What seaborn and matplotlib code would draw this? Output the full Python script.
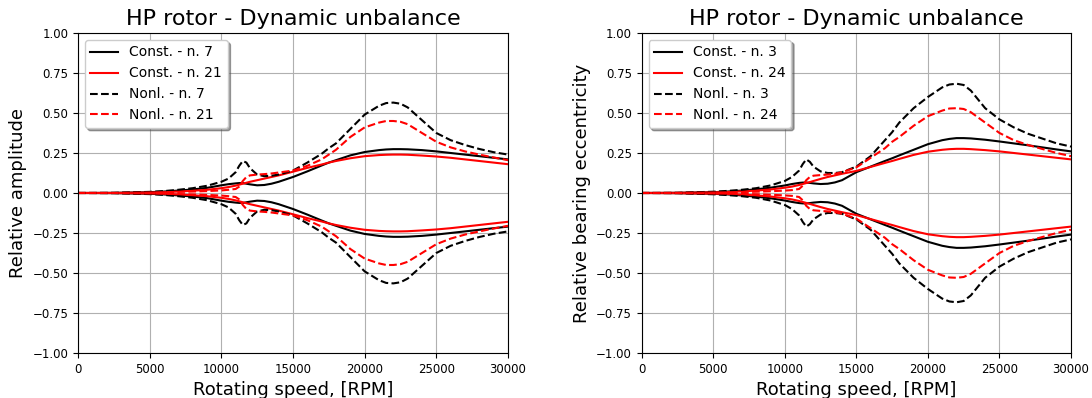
# Libraries
import numpy as np
import pandas as pd
import seaborn as sns
import matplotlib
matplotlib.use("Agg")
import matplotlib.pyplot as plt

# -----------------------------------
# Data
# -----------------------------------
rpm = [0, 2500, 5000, 6000, 7000, 8000, 9000, 10000, 10500, 11000, 11250,
       11500, 11750, 12000, 12500, 13000, 13500, 14000, 15000, 16000, 17000,
       17500, 18000, 19000, 20000, 21000, 21500, 22000, 22500, 23000, 24000,
       25000, 26000, 27000, 28000, 29000, 30000]

# Left panel - relative amplitude
const_n7 = [0, 0.001, 0.005, 0.009, 0.015, 0.022, 0.032, 0.048, 0.055, 0.06,
            0.062, 0.062, 0.058, 0.054, 0.048, 0.05, 0.058, 0.07, 0.10, 0.135,
            0.172, 0.19, 0.205, 0.235, 0.256, 0.268, 0.272, 0.274, 0.274,
            0.273, 0.268, 0.26, 0.25, 0.24, 0.23, 0.22, 0.21]
const_n21 = [0, 0.0, 0.003, 0.005, 0.009, 0.014, 0.02, 0.03, 0.037, 0.046,
             0.052, 0.058, 0.064, 0.07, 0.08, 0.09, 0.1, 0.11, 0.133, 0.157,
             0.178, 0.19, 0.2, 0.217, 0.23, 0.237, 0.239, 0.24, 0.24, 0.239,
             0.234, 0.228, 0.22, 0.21, 0.2, 0.19, 0.18]
nonl_n7 = [0, 0.001, 0.007, 0.012, 0.02, 0.03, 0.045, 0.07, 0.09, 0.13, 0.17,
           0.2, 0.19, 0.155, 0.115, 0.105, 0.108, 0.115, 0.14, 0.19, 0.245,
           0.28, 0.31, 0.40, 0.49, 0.545, 0.562, 0.565, 0.558, 0.535, 0.455,
           0.375, 0.33, 0.3, 0.275, 0.255, 0.24]
nonl_n21 = [0, 0, 0.003, 0.005, 0.007, 0.009, 0.012, 0.016, 0.02, 0.025, 0.04,
            0.075, 0.1, 0.11, 0.115, 0.118, 0.122, 0.128, 0.14, 0.17, 0.21,
            0.24, 0.27, 0.35, 0.41, 0.44, 0.45, 0.45, 0.445, 0.43, 0.375,
            0.32, 0.285, 0.26, 0.24, 0.222, 0.205]

# Right panel - relative bearing eccentricity
const_n3 = [0, 0.001, 0.005, 0.009, 0.015, 0.023, 0.033, 0.047, 0.056, 0.063,
            0.065, 0.065, 0.063, 0.06, 0.056, 0.058, 0.066, 0.08, 0.13, 0.165,
            0.2, 0.217, 0.235, 0.27, 0.305, 0.33, 0.338, 0.343, 0.343, 0.341,
            0.333, 0.322, 0.31, 0.298, 0.285, 0.272, 0.26]
const_n24 = [0, 0.001, 0.004, 0.006, 0.01, 0.015, 0.022, 0.033, 0.04, 0.05,
             0.056, 0.062, 0.068, 0.075, 0.088, 0.1, 0.11, 0.12, 0.138, 0.163,
             0.188, 0.2, 0.213, 0.238, 0.258, 0.27, 0.274, 0.276, 0.276,
             0.274, 0.268, 0.26, 0.25, 0.24, 0.23, 0.22, 0.21]
nonl_n3 = [0, 0.001, 0.008, 0.013, 0.02, 0.03, 0.047, 0.075, 0.1, 0.14, 0.18,
           0.21, 0.195, 0.165, 0.135, 0.125, 0.125, 0.13, 0.165, 0.23, 0.33,
           0.38, 0.44, 0.53, 0.6, 0.66, 0.678, 0.683, 0.675, 0.64, 0.53, 0.46,
           0.41, 0.37, 0.34, 0.31, 0.29]
nonl_n24 = [0, 0, 0.003, 0.004, 0.006, 0.008, 0.011, 0.015, 0.018, 0.025,
            0.045, 0.08, 0.1, 0.108, 0.112, 0.115, 0.12, 0.13, 0.16, 0.22,
            0.28, 0.32, 0.35, 0.42, 0.48, 0.515, 0.528, 0.53, 0.525, 0.505,
            0.44, 0.375, 0.33, 0.3, 0.275, 0.25, 0.23]

panels = [
    ("Relative amplitude",
     [("Const. - n. 7", const_n7), ("Const. - n. 21", const_n21),
      ("Nonl. - n. 7", nonl_n7), ("Nonl. - n. 21", nonl_n21)]),
    ("Relative bearing eccentricity",
     [("Const. - n. 3", const_n3), ("Const. - n. 24", const_n24),
      ("Nonl. - n. 3", nonl_n3), ("Nonl. - n. 24", nonl_n24)]),
]
colors = ["black", "red", "black", "red"]
styles = ["-", "-", "--", "--"]

# -----------------------------------
# Plot
# -----------------------------------
fig = plt.figure(figsize=(10.92, 3.98), dpi=100)
axes = [fig.add_axes([0.0714, 0.1131, 0.3938, 0.804]),
        fig.add_axes([0.5876, 0.1131, 0.3932, 0.804])]

for ax, (ylabel, series) in zip(axes, panels):
    ax.grid(True, color="#b0b0b0", linewidth=0.8)
    ax.set_axisbelow(True)
    # Positive branch first (legend), then mirrored branch
    for (label, vals), c, ls in zip(series, colors, styles):
        df = pd.DataFrame({"rpm": rpm, "amp": vals})
        sns.lineplot(data=df, x="rpm", y="amp", ax=ax, color=c,
                     linestyle=ls, linewidth=1.5, label=label)
    handles = list(ax.lines[:4])
    for (label, vals), c, ls in zip(series, colors, styles):
        df = pd.DataFrame({"rpm": rpm, "amp": -np.asarray(vals)})
        sns.lineplot(data=df, x="rpm", y="amp", ax=ax, color=c,
                     linestyle=ls, linewidth=1.5, legend=False)

    ax.set_xlim(0, 30000)
    ax.set_ylim(-1, 1)
    yt = np.arange(-1, 1.01, 0.25)
    ax.set_yticks(yt)
    ax.set_yticklabels([("%.2f" % v).replace("-", "\u2212") for v in yt])
    ax.set_xticks(np.arange(0, 30001, 5000))
    ax.tick_params(labelsize=8.5)
    ax.set_title("HP rotor - Dynamic unbalance", fontsize=16)
    ax.set_xlabel("Rotating speed, [RPM]", fontsize=13)
    ax.set_ylabel(ylabel, fontsize=13)
    ax.legend(handles=handles, labels=[s[0] for s in series],
              loc="upper left", fontsize=10, shadow=True, framealpha=1)

fig.savefig("out.png", dpi=100)
